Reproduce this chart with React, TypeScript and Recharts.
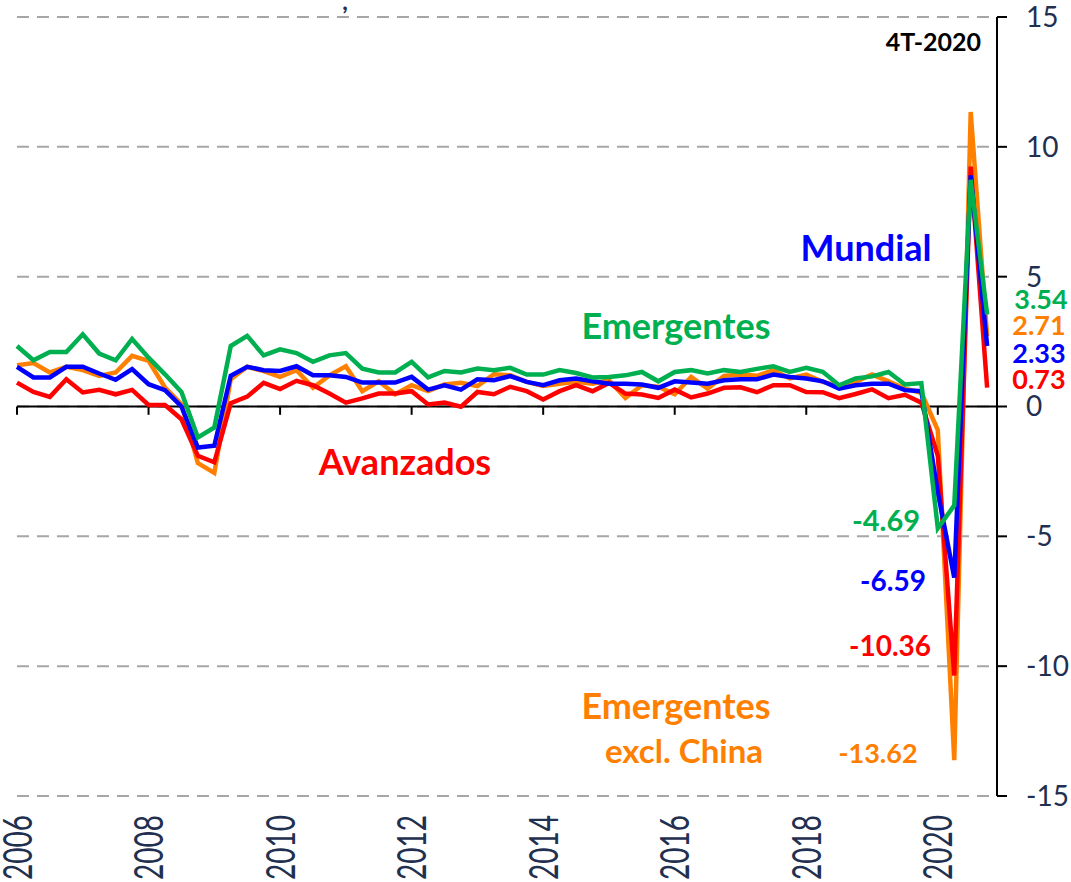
import { CartesianGrid, Line, LineChart, ReferenceLine, XAxis, YAxis } from "recharts";

// crecimiento trimestral, 1T-2006 .. 4T-2020
const emergentes = [
	2.33, 1.78, 2.1, 2.1, 2.78, 2.04, 1.78, 2.6, 1.88, 1.24, 0.56, -1.19, -0.81, 2.33, 2.72,
	1.97, 2.2, 2.06, 1.72, 1.97, 2.06, 1.46, 1.31, 1.31, 1.72, 1.12, 1.37, 1.31, 1.46,
	1.4, 1.49, 1.23, 1.23, 1.4, 1.29, 1.12, 1.14, 1.2, 1.33, 0.97, 1.33, 1.4, 1.27,
	1.4, 1.33, 1.45, 1.55, 1.33, 1.49, 1.34, 0.82, 1.08, 1.16, 1.33, 0.85, 0.9, -4.69, -3.81, 8.73, 3.54,
];
const exclChina = [
	1.59, 1.67, 1.31, 1.53, 1.4, 1.18, 1.31, 1.95, 1.76, 0.73, 0.09, -2.18, -2.56, 1.05, 1.53,
	1.36, 1.14, 1.4, 0.72, 1.2, 1.55, 0.59, 0.97, 0.47, 0.82, 0.59, 0.85, 0.91, 0.79,
	1.24, 1.2, 0.95, 0.79, 0.88, 0.95, 0.88, 1.01, 0.33, 0.82, 0.76, 0.47, 1.14, 0.69,
	1.18, 1.23, 1.18, 1.4, 1.08, 1.23, 0.95, 0.79, 0.95, 1.23, 0.97, 0.69, 0.53, -0.91, -13.62, 11.34, 2.71,
];
const mundial = [
	1.53, 1.12, 1.12, 1.53, 1.53, 1.27, 1.03, 1.44, 0.86, 0.63, 0, -1.58, -1.51, 1.18, 1.53,
	1.4, 1.37, 1.55, 1.2, 1.2, 1.14, 0.92, 0.92, 0.92, 1.14, 0.65, 0.82, 0.65, 1.05,
	1.01, 1.17, 0.95, 0.82, 1.01, 1.08, 0.97, 0.88, 0.88, 0.85, 0.72, 0.97, 0.92, 0.88,
	1.01, 1.05, 1.05, 1.23, 1.14, 1.08, 0.97, 0.69, 0.82, 0.88, 0.88, 0.63, 0.59, -3.3, -6.59, 8.9, 2.33,
];
const avanzados = [
	0.92, 0.56, 0.37, 1.05, 0.54, 0.64, 0.47, 0.64, 0.06, 0.06, -0.49, -1.9, -2.15, 0.13, 0.38,
	0.91, 0.67, 0.99, 0.82, 0.5, 0.15, 0.31, 0.5, 0.5, 0.59, 0.08, 0.15, -0.01, 0.56,
	0.47, 0.76, 0.59, 0.27, 0.59, 0.82, 0.59, 0.91, 0.5, 0.46, 0.33, 0.65, 0.35, 0.5,
	0.72, 0.74, 0.55, 0.82, 0.82, 0.56, 0.55, 0.32, 0.48, 0.66, 0.32, 0.45, 0.15, -1.9, -10.36, 9.24, 0.73,
];

const yearTicks = [0, 8, 16, 24, 32, 40, 48, 56];
const yearLabels = ["2006", "2008", "2010", "2012", "2014", "2016", "2018", "2020"];
const valueTicks = [-15, -10, -5, 0, 5, 10, 15];

const GREEN = "#00B050";
const ORANGE = "#FF8000";
const BLUE = "#0000FF";
const RED = "#FF0000";
const NAVY = "#1F3050";
const FONT = "Lato, 'Open Sans', sans-serif";

const data = mundial.map((_, i) => ({
	i,
	emergentes: emergentes[i],
	exclChina: exclChina[i],
	mundial: mundial[i],
	avanzados: avanzados[i],
}));

function YearTick(props: any) {
	const { x, y, payload } = props;
	const label = yearLabels[yearTicks.indexOf(payload.value)];
	return (
		<text
			transform={`translate(${x},${y}) rotate(-90) scale(1,1.45)`}
			textAnchor="end"
			dy="0.36em"
			fontSize={28}
			fontFamily={FONT}
			fill={NAVY}
		>
			{label}
		</text>
	);
}

function Note({ x, y, color, size, children, anchor = "middle" }: any) {
	return (
		<text x={x} y={y} fill={color} fontSize={size} fontWeight={700} fontFamily={FONT} textAnchor={anchor}>
			{children}
		</text>
	);
}

export default function App() {
	return (
		<div style={{ position: "absolute", left: 0, top: 0, width: 1071, height: 882, background: "#fff" }}>
			<LineChart width={1071} height={882} data={data} margin={{ top: 17, right: 0, left: 17, bottom: 0 }}>
				<CartesianGrid vertical={false} stroke="#A6A6A6" strokeWidth={2} strokeDasharray="12 8" />
				<XAxis
					dataKey="i"
					type="number"
					domain={[0, 59.6]}
					ticks={yearTicks}
					axisLine={false}
					tickLine={false}
					tickSize={0}
					tickMargin={19}
					height={86}
					interval={0}
					tick={<YearTick />}
				/>
				<YAxis
					orientation="right"
					domain={[-15, 15]}
					ticks={valueTicks}
					width={74}
					axisLine={{ stroke: "#000", strokeWidth: 2 }}
					tickLine={{ stroke: "#000", strokeWidth: 2 }}
					tickSize={10}
					tickMargin={19}
					tick={{ fill: NAVY, fontSize: 28, fontFamily: FONT }}
				/>
				<ReferenceLine y={0} stroke="#000" strokeWidth={2} />
				{yearTicks.map((t) => (
					<ReferenceLine
						key={t}
						segment={[
							{ x: t, y: 0 },
							{ x: t, y: -0.32 },
						]}
						stroke="#000"
						strokeWidth={2}
					/>
				))}
				<Line dataKey="exclChina" stroke={ORANGE} strokeWidth={4.5} dot={false} isAnimationActive={false} />
				<Line dataKey="avanzados" stroke={RED} strokeWidth={4.5} dot={false} isAnimationActive={false} />
				<Line dataKey="mundial" stroke={BLUE} strokeWidth={4.5} dot={false} isAnimationActive={false} />
				<Line dataKey="emergentes" stroke={GREEN} strokeWidth={4.5} dot={false} isAnimationActive={false} />
			</LineChart>
			<svg width={1071} height={882} style={{ position: "absolute", left: 0, top: 0, pointerEvents: "none" }}>
				<Note x={345} y={10} color={NAVY} size={24}>,</Note>
				<Note x={981} y={51} color="#000" size={25} anchor="end">4T-2020</Note>
				<Note x={866} y={261} color={BLUE} size={36}>Mundial</Note>
				<Note x={676} y={339} color={GREEN} size={36}>Emergentes</Note>
				<Note x={405} y={475} color={RED} size={36}>Avanzados</Note>
				<Note x={676} y={719} color={ORANGE} size={36}>Emergentes</Note>
				<Note x={684} y={763} color={ORANGE} size={33}>excl. China</Note>
				<Note x={886} y={531} color={GREEN} size={29}>-4.69</Note>
				<Note x={893} y={591} color={BLUE} size={28}>-6.59</Note>
				<Note x={890} y={656} color={RED} size={28}>-10.36</Note>
				<Note x={878} y={763} color={ORANGE} size={27}>-13.62</Note>
				<Note x={1041} y={309} color={GREEN} size={27}>3.54</Note>
				<Note x={1039} y={335} color={ORANGE} size={27}>2.71</Note>
				<Note x={1039} y={363} color={BLUE} size={27}>2.33</Note>
				<Note x={1039} y={389} color={RED} size={27}>0.73</Note>
			</svg>
		</div>
	);
}
